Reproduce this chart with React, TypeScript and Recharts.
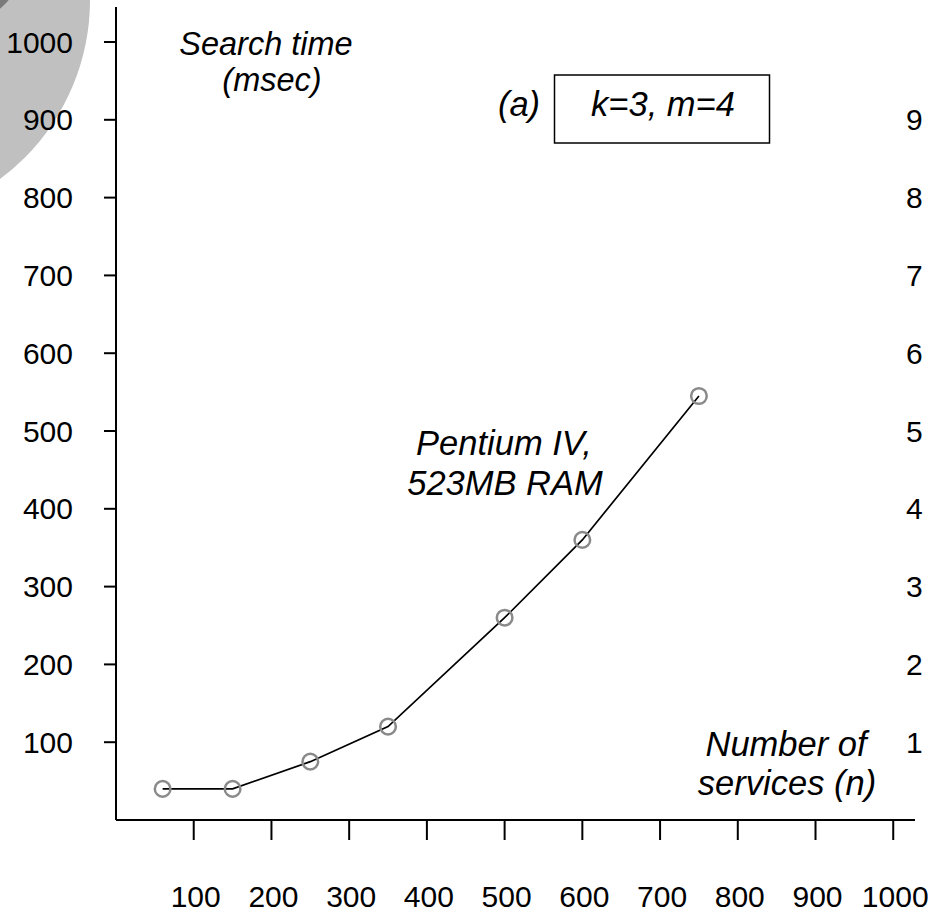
import React from 'react';
import { LineChart, Line, XAxis, YAxis, Customized } from 'recharts';

// ---- data ----
const servicesN = [60, 150, 250, 350, 500, 600, 750];
const searchTimeMs = [40, 40, 75, 120, 260, 360, 545];
const xTicks = [100, 200, 300, 400, 500, 600, 700, 800, 900, 1000];
const yTicks = [100, 200, 300, 400, 500, 600, 700, 800, 900, 1000];
const rightTicks = [100, 200, 300, 400, 500, 600, 700, 800, 900];
const rightTickLabels = ['1', '2', '3', '4', '5', '6', '7', '8', '9'];

const data = servicesN.map((n, i) => ({ n, t: searchTimeMs[i] }));

const FONT = '"Liberation Sans", Arial, sans-serif';
const TICK_FS = 30;
const NOTE_FS = 34.5;

const LeftTick = (props: any) => {
  const { x, y, payload } = props;
  return (
    <text x={x} y={y} dy="0.35em" textAnchor="end" fontFamily={FONT} fontSize={TICK_FS} fill="#000">
      {payload.value}
    </text>
  );
};

const RightTick = (props: any) => {
  const { x, y, payload } = props;
  const idx = rightTicks.indexOf(payload.value);
  return (
    <text x={x} y={y} dy="0.35em" textAnchor="start" fontFamily={FONT} fontSize={TICK_FS} fill="#000">
      {rightTickLabels[idx]}
    </text>
  );
};

const BottomTick = (props: any) => {
  const { x, y, payload } = props;
  return (
    <text x={x} y={y} dx={2} dy="0.35em" textAnchor="middle" fontFamily={FONT} fontSize={TICK_FS} fill="#000">
      {payload.value}
    </text>
  );
};

const Notes = () => (
  <g fontFamily={FONT} fontSize={NOTE_FS} fontStyle="italic" fill="#000">
    <text textAnchor="middle" fontSize={32.5}>
      <tspan x={266} y={55}>Search time</tspan>
      <tspan x={272} y={91}>(msec)</tspan>
    </text>
    <text x={519} y={116} textAnchor="middle">(a)</text>
    <rect x={554.5} y={75} width={215} height={68} fill="none" stroke="#000" strokeWidth={1.5} />
    <text x={663} y={116} textAnchor="middle">k=3, m=4</text>
    <text textAnchor="middle">
      <tspan x={504} y={455}>Pentium IV,</tspan>
      <tspan x={505} y={495}>523MB RAM</tspan>
    </text>
    <text textAnchor="middle">
      <tspan x={786} y={756}>Number of</tspan>
      <tspan x={787} y={795}>services (n)</tspan>
    </text>
  </g>
);

export default function App() {
  return (
    <div style={{ position: 'absolute', left: 0, top: 0, width: 933, height: 914, background: '#fff' }}>
      <svg width={933} height={914} style={{ position: 'absolute', left: 0, top: 0 }}>
        <circle cx={-133} cy={0} r={223} fill="#c0c0c0" />
        <circle cx={-40} cy={-40} r={63} fill="#7a7a7a" />
      </svg>
      <div style={{ position: 'absolute', left: 0, top: 0 }}>
        <LineChart width={933} height={914} data={data} margin={{ top: 7, right: 0, bottom: 0, left: 0 }}>
          <XAxis
            type="number"
            dataKey="n"
            domain={[0, 1028]}
            ticks={xTicks}
            interval={0}
            height={94}
            tickSize={20}
            tickMargin={56}
            tick={BottomTick}
            axisLine={{ stroke: '#000', strokeWidth: 2 }}
            tickLine={{ stroke: '#000', strokeWidth: 2 }}
            allowDataOverflow
          />
          <YAxis
            yAxisId="left"
            type="number"
            domain={[0, 1045]}
            ticks={yTicks}
            interval={0}
            width={116}
            tickSize={12}
            tickMargin={31}
            tick={LeftTick}
            axisLine={{ stroke: '#000', strokeWidth: 2 }}
            tickLine={{ stroke: '#000', strokeWidth: 2 }}
            allowDataOverflow
          />
          <YAxis
            yAxisId="right"
            orientation="right"
            type="number"
            domain={[0, 1045]}
            ticks={rightTicks}
            interval={0}
            width={18}
            tickSize={0}
            tickMargin={-9}
            tick={RightTick}
            axisLine={false}
            tickLine={false}
            allowDataOverflow
          />
          <Line
            yAxisId="left"
            type="linear"
            dataKey="t"
            stroke="#000"
            strokeWidth={1.7}
            dot={{ r: 7.8, stroke: '#8a8a8a', strokeWidth: 2.5, fill: 'none' }}
            activeDot={false}
            isAnimationActive={false}
          />
          <Customized component={Notes} />
        </LineChart>
      </div>
    </div>
  );
}
